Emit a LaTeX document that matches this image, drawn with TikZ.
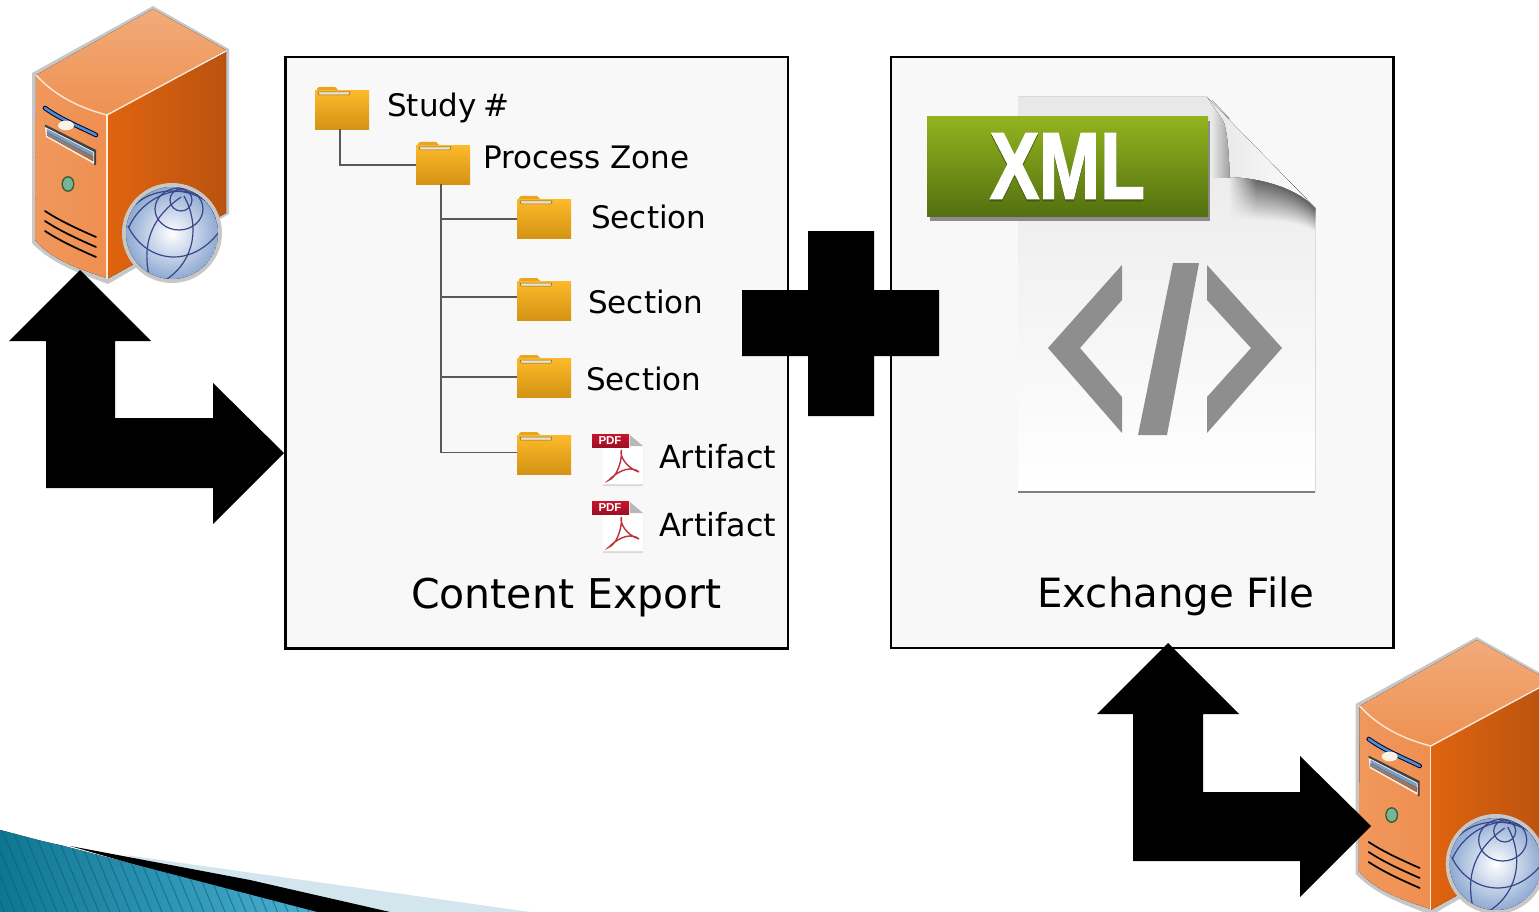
\documentclass[tikz,border=0pt]{standalone}
\usepackage{fontspec}
\setmainfont{DejaVu Sans}
\usetikzlibrary{fadings}
\newfontfamily\xmlfont[BoldFeatures={FakeBold=2}]{Liberation Sans}
\newfontfamily\pdffont{Liberation Sans}
\definecolor{boxbg}{HTML}{F8F8F8}
\definecolor{srvfront}{HTML}{EF8F50}
\definecolor{srvwhite}{HTML}{FBE9DA}
\definecolor{navyline}{HTML}{3A4488}
\definecolor{srvtoplt}{HTML}{F2AB7A}\definecolor{srvtopdk}{HTML}{EE9151}
\definecolor{srvsidelt}{HTML}{E0640F}\definecolor{srvsidedk}{HTML}{B9530F}
\definecolor{slotblue}{HTML}{4E8FCB}\definecolor{ovalwhite}{HTML}{FBF3E6}
\definecolor{baytop}{HTML}{6F9FD0}\definecolor{baybot}{HTML}{A5704F}
\definecolor{ledgreen}{HTML}{78B598}\definecolor{globeedge}{HTML}{8FAAD2}
\definecolor{pdfredlt}{HTML}{C9142C}\definecolor{pdfreddk}{HTML}{9C1023}
\definecolor{acrored}{HTML}{C0303A}\definecolor{foldertop}{HTML}{FDB92A}
\definecolor{folderbot}{HTML}{D39313}
\definecolor{foldertab}{HTML}{E9A520}\definecolor{folderpaper}{HTML}{EAE2CC}
\definecolor{pagetop}{HTML}{E8E8E8}\definecolor{pagemid}{HTML}{EFEFEF}\definecolor{glyphgray}{HTML}{8E8E8E}
\definecolor{greentop}{HTML}{93B31F}\definecolor{greenbot}{HTML}{52700F}
\definecolor{swdark}{HTML}{0F7692}\definecolor{swlight}{HTML}{4BB0D2}
\definecolor{swpale}{HTML}{D3E6EE}
\newcommand\pxfont[1]{\fontsize{#1}{#1}\selectfont}
\tikzset{
  x=1pt,y=-1pt,
  panel/.style={draw=black,line width=2.4pt,fill=boxbg,outer sep=0pt},
  blockarrow/.style={fill=black,draw=none},
  tree/.style={draw=black!65,line width=1.5pt},
  folderbody/.style={anchor=north west,inner sep=0pt,outer sep=0pt,minimum width=54pt,minimum height=39pt,
     top color=foldertop,bottom color=folderbot,draw=none},
  lab/.style={anchor=base west,inner sep=0pt,text=black},
  pics/server/.style={code={
    \fill[black!22] (153,6) -- (229,49) -- (229,214) -- (108,284) .. controls (75,272) and (50,262) .. (32,243) -- (32,73) -- cycle;
    \fill[top color=srvtoplt,bottom color=srvtopdk] (36,75) -- (153,9) -- (226,50) -- (107,115) .. controls (80,108) and (55,96) .. (36,75) -- cycle;
    \fill[left color=srvfront!70!srvtoplt,right color=srvfront] (36,75) .. controls (55,96) and (80,108) .. (107,115) -- (107,278) .. controls (75,268) and (50,258) .. (35,240) -- cycle;
    \fill[left color=srvsidelt,right color=srvsidedk] (107,115) -- (226,52) -- (226,213) -- (107,279) -- cycle;
    \draw[srvwhite,line width=1.4pt] (36,75) .. controls (55,96) and (80,108) .. (107,115) -- (226,51);
    \draw[srvwhite,line width=1.4pt] (107,115) -- (107,279);
    \draw[line width=4.6pt,line cap=round,black!80!blue] (45,108) .. controls (60,119) and (80,127) .. (96,135);
    \draw[line width=2.6pt,line cap=round,slotblue] (45,108) .. controls (60,119) and (80,127) .. (96,135);
    \fill[ovalwhite] (66,125.5) ellipse [x radius=8,y radius=4.8];
    \fill[black!75] (45,124.5) -- (96,150) -- (96,165) -- (94,165) -- (94,152) -- (45,127) -- cycle;
    \fill[srvwhite] (45,127) -- (46,137) -- (94,164) -- (94,152) -- cycle;
    \fill[baytop] (47,129) -- (93,152.5) -- (93,156.5) -- (47,132.5) -- cycle;
    \fill[left color=baybot!60!baytop,right color=baybot] (47,132.5) -- (93,156.5) -- (93,161) -- (47,135.5) -- cycle;
    \draw[black!80!green!80,line width=1.3pt,fill=ledgreen] (68,184) ellipse [x radius=5.8,y radius=7.2];
    \foreach \d in {0,10,20}{
      \draw[black,line width=1.7pt,line cap=round] (45,211+\d) .. controls (60,221+\d) and (80,230+\d) .. (96,237+\d);}
    \fill[black!22] (172,233) circle [radius=50];
    \begin{scope}
      \clip (172,233) circle [radius=46];
      \fill[inner color=white,outer color=globeedge] (172,233) circle [radius=46];
      \begin{scope}[navyline,line width=1.2pt]
      \draw (181,200) circle [radius=11];
      \draw (179,209) ellipse [x radius=24,y radius=21];
      \draw (129,227) .. controls (145,190) and (205,170) .. (218,225);
      \draw (128,226) .. controls (145,262) and (190,270) .. (219,232);
      \draw (150,280) .. controls (140,240) and (155,215) .. (181,197);
      \draw (167,279) .. controls (195,260) and (200,225) .. (184,196);
      \draw (135,205) .. controls (150,190) and (180,185) .. (205,200);
      \end{scope}
    \end{scope}
  }},
  pics/pdficon/.style={code={
    \fill[black!14] (11,4) -- (42,4) -- (51,14) -- (51,53) -- (11,53) -- cycle;
    \fill[white] (11,2) -- (40,2) -- (51,13) -- (51,51) -- (11,51) -- cycle;
    \fill[black!28] (38,2) -- (51,13) -- (38,13) -- cycle;
    \fill[top color=pdfredlt,bottom color=pdfreddk] (0,1) rectangle (37,14);
    \node[inner sep=0pt,text=white,font=\pdffont\bfseries\pxfont{11.5}] at (18,7.7) {PDF};
    \draw[acrored,line width=1.4pt] (29.5,17) .. controls (27,22) and (34,35) .. (47,39) .. controls (40,33) and (28,36) .. (17,47) .. controls (23,45) and (30,32) .. (29.5,17) -- cycle;
  }}
}
\newcommand\folderat[3]{%
  \begin{scope}[shift={(#2,#3)}]
    \fill[foldertab] (2,4) -- (2,2) .. controls (2,1) and (3,0) .. (5,0) -- (20,0) -- (24,4) -- cycle;
    \node[folderbody] (#1) at (0,3.5) {};
    \fill[folderpaper,draw=black!40!foldertab,line width=.5pt] (3,5) -- (35,5) -- (34,8) -- (4,8) -- cycle;
  \end{scope}}
\begin{document}
\begin{tikzpicture}
\useasboundingbox (0,0) rectangle (1539,912);
\clip (0,0) rectangle (1539,912);
\fill[white] (0,0) rectangle (1539,912);

% swoosh
\fill[swpale] (125,855) -- (530,912) -- (300,912) -- cycle;
\fill[black] (70,846) -- (250,880) -- (390,912) -- (300,912) -- cycle;
\begin{scope}
  \clip (0,830) .. controls (20,835) and (40,841) .. (60,845) -- (317,912) -- (0,912) -- cycle;
  \fill[left color=swdark,right color=swlight] (0,825) rectangle (320,912);
  \foreach \k in {-6,...,30}{
    \draw[swdark!80!black,line width=1pt,opacity=.6] (\k*10.5,825) -- (\k*10.5+36,912);}
\end{scope}

% servers
\pic at (0,0) {server};
\pic at (1323.7,631) {server};

% panels
\node[panel,anchor=north west,inner sep=0pt,minimum width=502.5pt,minimum height=591.5pt] (export) at (285.5,57) {};
\node[panel,anchor=north west,inner sep=0pt,minimum width=502.5pt,minimum height=591pt] (exchange) at (891,57) {};

% folders
\folderat{fstudy}{315}{87}
\folderat{fzone}{416}{142}
\folderat{fsec1}{517}{196}
\folderat{fsec2}{517}{278}
\folderat{fsec3}{517}{355}
\folderat{fart}{517}{432}

% tree
\draw[tree] ([xshift=-2pt]fstudy.south) |- (fzone.west);
\draw[tree] ([xshift=-2pt]fzone.south) |- ([yshift=2.5pt]fart.west);
\draw[tree] ([xshift=-2pt]fzone.south) |- (fsec1.west);
\draw[tree] ([xshift=-2pt]fzone.south) |- ([yshift=4pt]fsec2.west);
\draw[tree] ([xshift=-2pt]fzone.south) |- ([yshift=1pt]fsec3.west);

% pdf icons
\pic at (592,433) {pdficon};
\pic at (592,500) {pdficon};

% labels
\node[lab,font=\pxfont{31}] (tstudy) at (387,117) {Study\hspace{-3.5pt} \#};
\node[lab,font=\pxfont{31}] (tzone) at (483,169) {Process Zone};
\node[lab,font=\pxfont{31}] (ts1) at (591,229) {Section};
\node[lab,font=\pxfont{31}] (ts2) at (588,313) {Section};
\node[lab,font=\pxfont{31}] (ts3) at (586,390) {Section};
\node[lab,font=\pxfont{31.8}] (ta1) at (659,468) {Artifact};
\node[lab,font=\pxfont{31.8}] (ta2) at (659,536) {Artifact};
\node[lab,font=\pxfont{41}] (tce) at (411,608) {Content Export};
\node[lab,font=\pxfont{40.3}] (tef) at (1037,607) {Exchange File};

% xml page
\fill[top color=pagetop,bottom color=white] (1018,97) -- (1207,97) -- (1315,208) -- (1315,492) -- (1018,492) -- cycle;
\begin{scope}
  \clip (1207,97) -- (1315,208) -- (1315,240) -- (1228,240) -- (1228,97) -- cycle;
  \foreach \i in {44,42,...,0}{
    \pgfmathsetmacro\shadeamt{60*(1-\i/44)}
    \fill[black!\shadeamt!pagemid] (1228,176+\i) .. controls (1265,178+\i) and (1300,190+\i*.7) .. (1318,212+\i*.5) -- (1318,170) -- (1228,160) -- cycle;
  }
  \fill[pagemid,path fading=east] (1228,165) rectangle (1256,225);
\end{scope}
\fill[left color=pagetop,right color=black!38] (1212,100) -- (1229,118) -- (1230,178) -- (1212,178) -- cycle;
\fill[left color=black!10,right color=white] (1207,97) -- (1315,208) .. controls (1300,190) and (1265,178) .. (1230,177) .. controls (1229,155) and (1228,135) .. (1224,122) -- cycle;
\draw[black!50,line width=2pt] (1018,492) -- (1315,492);
\fill[glyphgray] (1122,265) -- (1048,348) -- (1122,433) -- (1122,397) -- (1080,348) -- (1122,300) -- cycle;
\fill[glyphgray] (1173,263) -- (1199,263) -- (1167,435) -- (1138,435) -- cycle;
\fill[glyphgray] (1207,265) -- (1282,348) -- (1207,433) -- (1207,397) -- (1251,348) -- (1207,300) -- cycle;
\fill[black!45] (930,121) rectangle (1210,221);
\node[anchor=north west,inner sep=0pt,outer sep=0pt,minimum width=281pt,minimum height=100pt,top color=greentop,bottom color=greenbot] (xmlbanner) at (927,117) {};
\node[inner sep=0pt,text=greenbot!80!black,xscale=.78,transform shape,font=\xmlfont\bfseries\pxfont{94}] (xmlshadow) at (1067.5,168) {XML};
\node[inner sep=0pt,text=white,xscale=.78,transform shape,font=\xmlfont\bfseries\pxfont{94}] (xmltext) at (1067.5,166) {XML};

% plus
\fill[blockarrow] (808,231) -- (874,231) -- (874,290) -- (939,290) -- (939,356) -- (874,356) -- (874,416) -- (808,416) -- (808,356) -- (742,356) -- (742,290) -- (808,290) -- cycle;

% bent arrows
\fill[blockarrow] (80,270) -- (151,341) -- (115,341) -- (115,418) -- (213,418) -- (213,383) -- (284,453) -- (213,524) -- (213,488) -- (46,488) -- (46,341) -- (9,341) -- cycle;
\fill[blockarrow] (1168,643) -- (1239,714) -- (1203,714) -- (1203,792) -- (1300,792) -- (1300,756) -- (1371,826) -- (1300,897) -- (1300,861) -- (1133,861) -- (1133,714) -- (1097,714) -- cycle;
\end{tikzpicture}
\end{document}
